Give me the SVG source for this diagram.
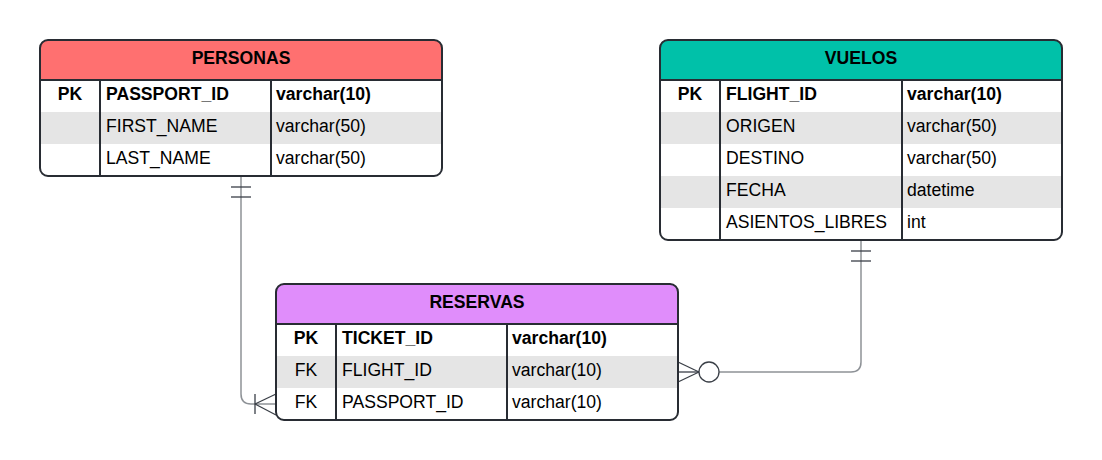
<svg xmlns="http://www.w3.org/2000/svg" width="1102" height="460" viewBox="0 0 1102 460">
<style>
.t{font-family:"Liberation Sans",Arial,sans-serif;font-size:17.6px;fill:#000}
.b{font-weight:bold}
.c{text-anchor:middle}
.frame{fill:none;stroke:#282c33;stroke-width:2}
.sep{stroke:#282c33;stroke-width:2}
.alt{fill:#e5e5e5}
.conn{fill:none;stroke:#8e9297;stroke-width:1.5}
.mk{fill:none;stroke:#3a3f47;stroke-width:1.3}
</style>
<rect width="1102" height="460" fill="#ffffff"/>
<g id="connectors">
<path class="conn" d="M241 176 V394 Q241 404 251 404 H276"/>
<line class="mk" x1="231" y1="187" x2="251" y2="187"/>
<line class="mk" x1="231" y1="197" x2="251" y2="197"/>
<line class="mk" x1="255" y1="394" x2="255" y2="414"/>
<line class="mk" x1="255" y1="404" x2="276" y2="394"/>
<line class="mk" x1="255" y1="404" x2="276" y2="415"/>
<path class="conn" d="M861 240 V362 Q861 372 851 372 H719"/>
<line class="mk" x1="851" y1="251" x2="871" y2="251"/>
<line class="mk" x1="851" y1="261" x2="871" y2="261"/>
<circle class="mk" cx="709" cy="372" r="10" fill="#fff"/>
<line class="mk" x1="699" y1="372" x2="678" y2="362"/>
<line class="mk" x1="699" y1="372" x2="678" y2="382"/>
<line class="mk" x1="678" y1="372" x2="699" y2="372"/>
</g>
<g id="personas">
<path d="M40 48 Q40 40 48 40 H434 Q442 40 442 48 V80 H40 Z" fill="#ff7070"/>
<rect x="40" y="80" width="402" height="96" fill="#fff"/>
<rect class="alt" x="40" y="112" width="402" height="32"/>
<line class="sep" x1="40" y1="80" x2="442" y2="80"/>
<line class="sep" x1="100" y1="80" x2="100" y2="176"/>
<line class="sep" x1="271" y1="80" x2="271" y2="176"/>
<rect class="frame" x="40" y="40" width="402" height="136" rx="8"/>
<text class="t b c" x="241" y="63.5">PERSONAS</text>
<text class="t b c" x="70" y="100">PK</text>
<text class="t b" x="106" y="100">PASSPORT_ID</text>
<text class="t b" x="276" y="100">varchar(10)</text>
<text class="t" x="106" y="132">FIRST_NAME</text>
<text class="t" x="276" y="132">varchar(50)</text>
<text class="t" x="106" y="164">LAST_NAME</text>
<text class="t" x="276" y="164">varchar(50)</text>
</g>
<g id="vuelos">
<path d="M660 48 Q660 40 668 40 H1054 Q1062 40 1062 48 V80 H660 Z" fill="#00c1a9"/>
<rect x="660" y="80" width="402" height="160" fill="#fff"/>
<rect class="alt" x="660" y="112" width="402" height="32"/>
<rect class="alt" x="660" y="176" width="402" height="32"/>
<line class="sep" x1="660" y1="80" x2="1062" y2="80"/>
<line class="sep" x1="720" y1="80" x2="720" y2="240"/>
<line class="sep" x1="902" y1="80" x2="902" y2="240"/>
<rect class="frame" x="660" y="40" width="402" height="200" rx="8"/>
<text class="t b c" x="861" y="63.5">VUELOS</text>
<text class="t b c" x="690" y="100">PK</text>
<text class="t b" x="726" y="100">FLIGHT_ID</text>
<text class="t b" x="907" y="100">varchar(10)</text>
<text class="t" x="726" y="132">ORIGEN</text>
<text class="t" x="907" y="132">varchar(50)</text>
<text class="t" x="726" y="164">DESTINO</text>
<text class="t" x="907" y="164">varchar(50)</text>
<text class="t" x="726" y="196">FECHA</text>
<text class="t" x="907" y="196">datetime</text>
<text class="t" x="726" y="228">ASIENTOS_LIBRES</text>
<text class="t" x="907" y="228">int</text>
</g>
<g id="reservas">
<path d="M276 292 Q276 284 284 284 H670 Q678 284 678 292 V324 H276 Z" fill="#e08dfb"/>
<rect x="276" y="324" width="402" height="96" fill="#fff"/>
<rect class="alt" x="276" y="356" width="402" height="32"/>
<line class="sep" x1="276" y1="324" x2="678" y2="324"/>
<line class="sep" x1="336" y1="324" x2="336" y2="420"/>
<line class="sep" x1="507" y1="324" x2="507" y2="420"/>
<rect class="frame" x="276" y="284" width="402" height="136" rx="8"/>
<text class="t b c" x="477" y="307.5">RESERVAS</text>
<text class="t b c" x="306" y="344">PK</text>
<text class="t b" x="342" y="344">TICKET_ID</text>
<text class="t b" x="512" y="344">varchar(10)</text>
<text class="t c" x="306" y="376">FK</text>
<text class="t" x="342" y="376">FLIGHT_ID</text>
<text class="t" x="512" y="376">varchar(10)</text>
<text class="t c" x="306" y="408">FK</text>
<text class="t" x="342" y="408">PASSPORT_ID</text>
<text class="t" x="512" y="408">varchar(10)</text>
</g>
</svg>
